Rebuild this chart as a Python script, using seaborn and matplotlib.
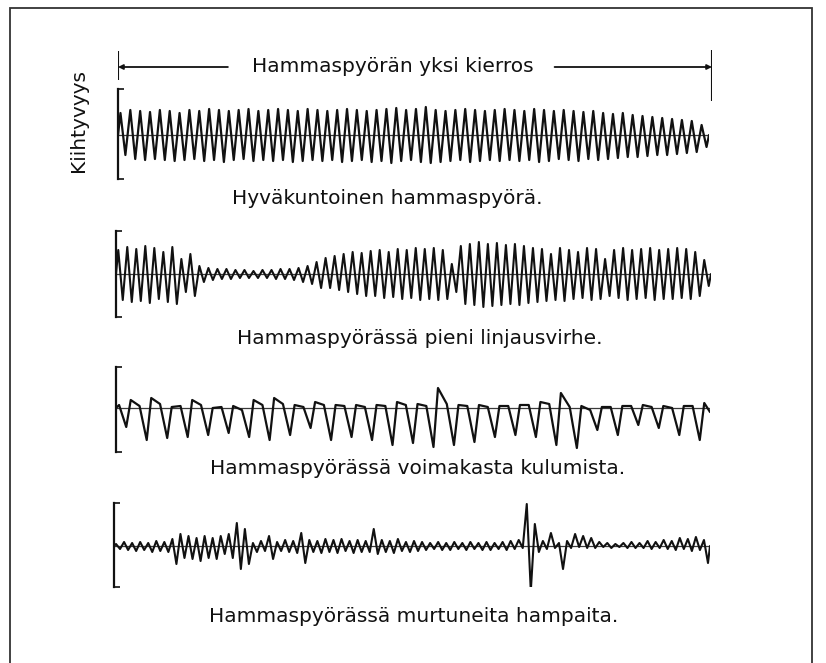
import numpy as np
import pandas as pd
import matplotlib
matplotlib.use("Agg")
import matplotlib.pyplot as plt
import seaborn as sns
from matplotlib.patches import Rectangle

# ---------------- data (amplitudes in arbitrary units) ----------
title_top = "Hammaspyörän yksi kierros"
y_label = "Kiihtyvyys"
panel_titles = [
    "Hyväkuntoinen hammaspyörä.",
    "Hammaspyörässä pieni linjausvirhe.",
    "Hammaspyörässä voimakasta kulumista.",
    "Hammaspyörässä murtuneita hampaita.",
]

# Panel 1: good gear - per tooth-mesh cycle peak / trough
good_peaks = [22, 25, 24, 23, 25, 24, 22, 25, 24, 26,
              25, 24, 25, 26, 24, 25, 26, 25, 24, 26,
              25, 24, 25, 26, 25, 24, 25, 26, 27, 25,
              26, 28, 25, 24, 25, 26, 25, 24, 25, 26,
              25, 24, 26, 25, 24, 25, 24, 23, 24, 22,
              21, 22, 20, 19, 18, 17, 16, 15, 14, 10]
good_troughs = [20, 24, 25, 24, 25, 26, 25, 24, 26, 25,
                27, 25, 24, 26, 25, 26, 25, 27, 26, 25,
                26, 25, 27, 26, 25, 27, 26, 28, 26, 25,
                27, 28, 27, 26, 25, 27, 26, 25, 26, 25,
                26, 25, 27, 26, 24, 25, 26, 24, 25, 24,
                23, 22, 22, 21, 20, 20, 19, 18, 17, 12]

# Panel 2: small misalignment (amplitude modulated)
mis_peaks = ([24, 27, 25, 28, 26, 22, 27, 15, 20] +
             [8, 6, 5, 5, 4, 4, 3, 4, 4, 5, 5, 6, 8, 12] +
             [16, 18, 20, 22, 21, 23, 24, 22, 25, 24, 26, 25, 26, 24,
              10,
              28, 30, 32, 30, 31, 29, 30, 28,
              26, 25, 20, 26, 24, 22, 26, 25, 15, 24, 26, 24, 25, 26, 24, 25, 26, 25, 22, 14])
mis_troughs = ([26, 28, 27, 29, 25, 28, 30, 18, 22] +
               [8, 6, 5, 5, 4, 4, 4, 4, 5, 5, 6, 8, 10, 14] +
               [14, 16, 18, 20, 22, 22, 24, 23, 25, 24, 26, 25, 26, 25,
                18,
                30, 31, 33, 32, 31, 30, 31, 29,
                28, 27, 26, 27, 25, 24, 26, 25, 22, 24, 26, 25, 24, 26, 25, 25, 24, 25, 22, 12])

# Panel 3: heavy wear - flat level, trough, rebound peak per cycle
wear_flat = [3, 2, 4, 2, 3, 1, -2, 3, 4, 1, 3, 2, 1, 2, 3,
             2, 4, 2, 1, 2, 3, 4, 1, -2, 1, 2, 1, 0, 2]
wear_troughs = [19, 32, 30, 29, 27, 25, 29, 32, 27, 20, 32, 29, 32, 37, 35,
                39, 37, 34, 29, 27, 29, 37, 40, 22, 27, 17, 20, 27, 32]
wear_rebound = [8, 10, 1, 8, 0, 2, 8, 10, 3, 6, 3, 3, 3, 6, 4,
                20, 3, 3, 2, 3, 6, 15, 2, 1, 2, 3, 2, 2, 5]

# Panel 4: broken teeth - impulse at the damaged tooth
broken_peaks = ([2, 4, 3, 4, 3, 5, 4] +
                [7, 12, 10, 8, 10, 8, 10, 12, 23, 17] +
                [3, 5, 10, 4, 6, 5, 13, 6, 5, 7, 6, 7, 5, 6, 5, 17, 6, 5, 7, 4, 5] +
                [4, 3, 4, 3, 4, 3, 4, 3, 4, 3, 4, 5, 6] +
                [42, 22, 5, 13, 3] +
                [5, 12, 10, 8, 4, 3, 2, 3, 4, 3, 5, 4, 6, 5, 8, 7, 9, 6])
broken_troughs = ([3, 4, 5, 4, 6, 5, 6] +
                  [18, 12, 13, 15, 12, 13, 8, 12, 23, 18] +
                  [6, 5, 13, 5, 6, 7, 17, 6, 7, 6, 7, 5, 7, 6, 6, 8, 6, 7, 5, 6, 5] +
                  [4, 3, 4, 4, 3, 4, 3, 4, 4, 3, 4, 3, 2] +
                  [45, 6, 3, 2, 23] +
                  [2, 1, 2, 2, 1, 2, 1, 2, 2, 2, 3, 2, 3, 4, 3, 5, 4, 17])

# ---------------- helpers ----------------
INK = "#111111"
W, H = 826, 663


def zigzag(peaks, troughs):
    p = np.asarray(peaks, float)
    t = np.asarray(troughs, float)
    n = len(p)
    k = np.arange(n)
    x = np.column_stack([(k + 0.25) / n, (k + 0.75) / n]).ravel()
    y = np.column_stack([p, -t]).ravel()
    x = np.concatenate([[0.0], x, [1.0]])
    y = np.concatenate([[0.0], y, [0.0]])
    return pd.DataFrame({"t": x, "a": y})


def vshape(flat, troughs, rebound):
    f = np.asarray(flat, float)
    t = np.asarray(troughs, float)
    r = np.asarray(rebound, float)
    n = len(f)
    k = np.arange(n)
    x = np.column_stack([(k + 0.15) / n, (k + 0.5) / n, (k + 0.72) / n]).ravel()
    y = np.column_stack([f, -t, r]).ravel()
    x = np.concatenate([[0.0], x, [1.0]])
    y = np.concatenate([[0.0], y, [-4.0]])
    return pd.DataFrame({"t": x, "a": y})


sns.set_theme(style="white")
plt.rcParams["font.family"] = ["DejaVu Sans"]

fig = plt.figure(figsize=(W / 100, H / 100), dpi=100)
fig.patch.set_facecolor("white")


def px_axes(x0, x1, y0, y1):
    return fig.add_axes([x0 / W, 1 - y1 / H, (x1 - x0) / W, (y1 - y0) / H])


panels = [
    # left, right, top, bottom, baseline (pixels), line width
    (118, 709, 89, 179, 135, 1.6, zigzag(good_peaks, good_troughs)),
    (116, 711, 231, 317, 274, 1.5, zigzag(mis_peaks, mis_troughs)),
    (116, 710, 367, 452, 408, 1.6, vshape(wear_flat, wear_troughs, wear_rebound)),
    (114, 710, 503, 587, 546, 1.5, zigzag(broken_peaks, broken_troughs)),
]

for (x0, x1, y0, y1, base, lw, df) in panels:
    ax = px_axes(x0, x1, y0, y1)
    ax.set_facecolor("none")
    ax.axhline(0, color="#3a3a3a", lw=0.9, zorder=1)
    sns.lineplot(data=df, x="t", y="a", sort=False, estimator=None,
                 ax=ax, color=INK, lw=lw, zorder=2)
    ax.set_xlim(0, 1)
    ax.set_ylim(-(y1 - base), base - y0)
    for s in ("top", "right", "bottom"):
        ax.spines[s].set_visible(False)
    ax.spines["left"].set_color(INK)
    ax.spines["left"].set_linewidth(1.6)
    ax.set_xticks([])
    ax.set_yticks([-(y1 - base), base - y0])
    ax.tick_params(axis="y", direction="in", length=4, width=1.2,
                   color=INK, labelleft=False, left=True)
    ax.set_xlabel("")
    ax.set_ylabel("")

# ---------------- top "one revolution" annotation ----------------
ann = px_axes(118, 712, 45, 105)
ann.set_xlim(0, 1)
ann.set_ylim(105, 45)
ann.axis("off")
ann.vlines(0, 51, 80, color=INK, lw=1.5)
ann.vlines(1, 50, 101, color=INK, lw=1.5)
ann.annotate("", xy=(0.0, 67), xytext=(0.185, 67),
             arrowprops=dict(arrowstyle="-|>", mutation_scale=7, lw=1.3,
                             color=INK, shrinkA=0, shrinkB=0))
ann.annotate("", xy=(1.0, 67), xytext=(0.735, 67),
             arrowprops=dict(arrowstyle="-|>", mutation_scale=7, lw=1.3,
                             color=INK, shrinkA=0, shrinkB=0))
ann.text(0.462, 67, title_top, ha="center", va="center", fontsize=14.5, color=INK)

# ---------------- texts ----------------
fig.text(79 / W, 1 - 120 / H, y_label, rotation=90, ha="center", va="center",
         fontsize=14.5, color=INK)
label_pos = [(387, 198), (420, 339), (418, 469), (414, 617)]
for (cx, cy), s in zip(label_pos, panel_titles):
    fig.text(cx / W, 1 - cy / H, s, ha="center", va="center", fontsize=14.5, color=INK)

# frame of the scanned figure
fig.patches.append(Rectangle((10 / W, -0.05), (812 - 10) / W, 1.05 - 8 / H,
                             transform=fig.transFigure, fill=False,
                             edgecolor="#333333", lw=1.3))

fig.savefig("out.png", dpi=100, facecolor="white")
